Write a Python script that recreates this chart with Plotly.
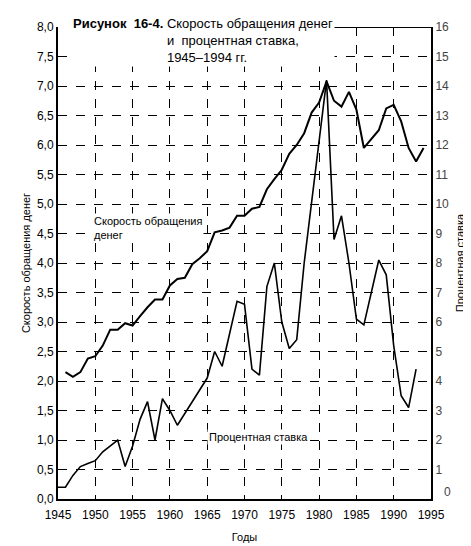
import plotly.graph_objects as go

vel_years = list(range(1946, 1995))
velocity = [2.15, 2.07, 2.15, 2.38, 2.42, 2.6, 2.87, 2.87, 2.98, 2.94, 3.1, 3.25, 3.38, 3.38, 3.62,
            3.73, 3.75, 3.98, 4.08, 4.2, 4.52, 4.55, 4.6, 4.8, 4.8, 4.92, 4.95, 5.25, 5.42, 5.58,
            5.85, 6.0, 6.2, 6.55, 6.72, 7.08, 6.75, 6.65, 6.9, 6.6, 5.95, 6.1, 6.25, 6.62, 6.68,
            6.4, 5.95, 5.72, 5.95]

rate_years = list(range(1945, 1994))
rate = [0.4, 0.4, 0.8, 1.1, 1.2, 1.3, 1.6, 1.8, 2.0, 1.1, 1.8, 2.7, 3.3, 2.0, 3.4,
        3.0, 2.5, 2.9, 3.3, 3.7, 4.1, 5.0, 4.5, 5.6, 6.7, 6.6, 4.4, 4.2, 7.2, 8.0,
        6.0, 5.1, 5.4, 8.0, 10.0, 12.0, 14.2, 8.8, 9.6, 8.0, 6.1, 5.9, 7.0, 8.1, 7.6,
        5.2, 3.5, 3.1, 4.4]

left_ticks = [i * 0.5 for i in range(17)]
left_text = [f"{v:.1f}".replace(".", ",") for v in left_ticks]
right_ticks = list(range(17))
x_ticks = list(range(1945, 2000, 5))

font = "Liberation Sans, Arial, sans-serif"
fig = go.Figure()
fig.add_trace(go.Scatter(x=vel_years, y=velocity, mode="lines", line=dict(color="black", width=2), yaxis="y"))
fig.add_trace(go.Scatter(x=rate_years, y=rate, mode="lines", line=dict(color="black", width=1.6), yaxis="y2"))

fig.update_layout(
    width=471, height=546, margin=dict(l=50, r=48, t=14, b=51),
    paper_bgcolor="white", plot_bgcolor="white", showlegend=False,
    font=dict(family=font, size=12, color="black"),
    xaxis=dict(range=[1945, 1995], tickvals=x_ticks, showgrid=True, gridcolor="black",
               griddash="dash", gridwidth=1, showline=True, linecolor="black", linewidth=2,
               ticks="", zeroline=False, ticklabelstandoff=4,
               title=dict(text="Годы", font=dict(size=11), standoff=12)),
    yaxis=dict(range=[0, 8], tickvals=left_ticks, ticktext=left_text, showgrid=True,
               gridcolor="black", griddash="dash", gridwidth=1, showline=True, linecolor="black",
               linewidth=2, ticks="", zeroline=False,
               title=dict(text="Скорость обращения денег", font=dict(size=11), standoff=4)),
    yaxis2=dict(range=[0, 16], tickvals=right_ticks[1:], overlaying="y", side="right", showgrid=False,
                showline=True, linecolor="black", linewidth=2, ticks="", zeroline=False,
                tickfont=dict(color="#444"),
                title=dict(text="Процентная ставка", font=dict(size=11), standoff=8)),
)
fig.add_shape(type="line", xref="x", yref="y", x0=1980.5, x1=1995, y0=8, y1=8,
              line=dict(color="black", width=2))
fig.add_annotation(xref="paper", yref="paper", x=1.0, y=-0.004, xanchor="right", yanchor="bottom",
                   xshift=22, showarrow=False, text="0", font=dict(size=12, color="#444"))
fig.add_annotation(xref="paper", yref="paper", x=0.035, y=1.028, xanchor="left", yanchor="top",
                   showarrow=False, align="left", bgcolor="white",
                   text="<b>Рисунок  16-4.</b> Скорость обращения денег<br>                          и  процентная ставка,<br>                          1945–1994 гг.",
                   font=dict(size=13))
fig.add_annotation(xref="x", yref="y", x=1949.5, y=4.6, xanchor="left", showarrow=False, align="left",
                   bgcolor="white", text="Скорость обращения<br>денег", font=dict(size=11))
fig.add_annotation(xref="x", yref="y", x=1965, y=1.05, xanchor="left", showarrow=False,
                   bgcolor="white", text="Процентная ставка", font=dict(size=11))
fig.write_html("out.html")
